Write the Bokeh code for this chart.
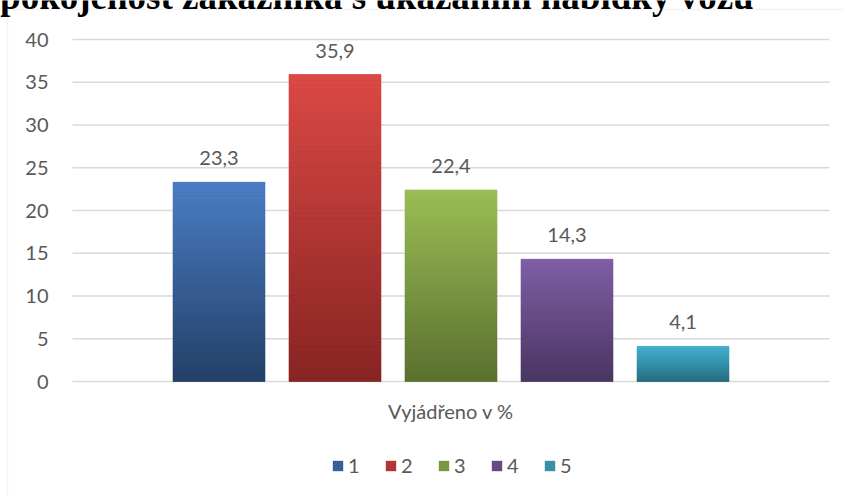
from bokeh.plotting import figure
from bokeh.models import (Range1d, Label, BoxAnnotation, Legend, LegendItem,
                          ColumnDataSource)
from bokeh.embed import file_html
from bokeh.resources import INLINE
from bokeh.core.properties import value

# ---- data ----
series = ["1", "2", "3", "4", "5"]
values = [23.3, 35.9, 22.4, 14.3, 4.1]
top_colors = ["#4A7EC4", "#DB4945", "#9BBE55", "#8160A8", "#44B2D0"]
bottom_colors = ["#243F66", "#872422", "#5A7030", "#4A3560", "#276D80"]
y_ticks = [0, 5, 10, 15, 20, 25, 30, 35, 40]
y_tick_labels = ["0", "5", "10", "15", "20", "25", "30", "35", "40"]
category_label = "Vyjádřeno v %"
title_text = "Spokojenost zákazníka s ukázáním nabídky vozů"

FONT = "Lato"
GREY = "#595959"

def hex2rgb(h):
    h = h.lstrip("#")
    return tuple(int(h[i:i + 2], 16) for i in (0, 2, 4))

def mix(c1, c2, t):
    a, b = hex2rgb(c1), hex2rgb(c2)
    return "#%02x%02x%02x" % tuple(int(round(a[i] + (b[i] - a[i]) * t)) for i in range(3))

# ---- layout (pixels) ----
W, H = 845, 496
PL, PR, PT, PB = 72, 829, 39, 381          # plot area in canvas pixels
n = len(series)
slot = (PR - PL) / 6.526                   # pixels per category slot
ypx = (PB - PT) / (y_ticks[-1] - y_ticks[0])
xs = [i - (n - 1) / 2 for i in range(n)]
bar_w = 0.793
x_left = -(PR - PL) / 2 / slot
x_right = (PR - PL) / 2 / slot
x0 = x_left - PL / slot
x1 = x_right + (W - PR) / slot
y1 = y_ticks[-1] + PT / ypx
y0 = y_ticks[0] - (H - PB) / ypx

def px_to_y(py):
    return y1 - py / ypx

def px_to_x(px):
    return x0 + px / slot

p = figure(width=W, height=H, output_backend="svg", toolbar_location=None,
           x_range=Range1d(x0, x1), y_range=Range1d(y0, y1),
           min_border=0, x_axis_type=None, y_axis_type=None)
p.outline_line_color = None
p.background_fill_color = "white"
p.border_fill_color = "white"
p.xgrid.visible = False
p.ygrid.visible = False

# gridlines
p.segment(x0=[x_left] * len(y_ticks), x1=[x_right] * len(y_ticks),
          y0=y_ticks, y1=y_ticks, line_color="#D9D9D9", line_width=1.5)

# y tick labels
p.text(x=[x_left] * len(y_ticks), y=y_ticks, text=y_tick_labels,
       x_offset=-24, text_align="right", text_baseline="middle",
       text_font=value(FONT), text_font_size="20px", text_color=GREY)

# bars: base solid (for legend) + gradient slices
N = 60
legend_items = []
for i in range(n):
    src = ColumnDataSource(dict(x=[xs[i]], top=[values[i]]))
    r = p.vbar(x="x", top="top", bottom=0, width=bar_w, source=src,
               fill_color=mix(bottom_colors[i], top_colors[i], 0.5), line_color=None)
    legend_items.append(LegendItem(label=series[i], renderers=[r]))
    bots = [values[i] * k / N for k in range(N)]
    tops = [values[i] * (k + 1) / N for k in range(N)]
    cols = [mix(bottom_colors[i], top_colors[i], (k + 0.5) / N) for k in range(N)]
    s2 = ColumnDataSource(dict(x=[xs[i]] * N, b=bots, t=tops, c=cols))
    p.vbar(x="x", bottom="b", top="t", width=bar_w, source=s2,
           fill_color="c", line_color="c", line_width=0.6)

# data labels
lab_src = ColumnDataSource(dict(x=xs, y=values,
                                t=[("%.1f" % v).replace(".", ",") for v in values]))
p.text(x="x", y="y", text="t", source=lab_src, text_align="center",
       text_baseline="middle", y_offset=-24, text_font=value(FONT),
       text_font_size="20px", text_color=GREY)

# category (axis) label
p.text(x=[0], y=[y_ticks[0]], text=[category_label], text_align="center",
       text_baseline="middle", y_offset=29, text_font=value(FONT),
       text_font_size="20px", text_color=GREY)

# legend
legend = Legend(items=legend_items, orientation="horizontal", location=(331, 19),
                label_text_font=FONT, label_text_font_size="20px",
                label_text_color=GREY, glyph_width=13, glyph_height=13,
                label_standoff=4, spacing=16, border_line_color=None,
                background_fill_alpha=0, margin=0, padding=0)
p.add_layout(legend)

# chart border (left and top edges visible)
p.add_layout(BoxAnnotation(left=px_to_x(7), right=x1 + 10, top=px_to_y(9), bottom=y0 - 10,
                           fill_alpha=0, line_color="#D9D9D9", line_width=1.5,
                           level="underlay"))

# title, cut off at the top and left edges as in the reference
p.add_layout(Label(x=px_to_x(-21), y=px_to_y(-4), text=title_text,
                   text_font="Liberation Serif", text_font_style="bold",
                   text_font_size="37px", text_color="black",
                   text_baseline="alphabetic"))

open("out.html", "w").write(file_html(p, INLINE))
